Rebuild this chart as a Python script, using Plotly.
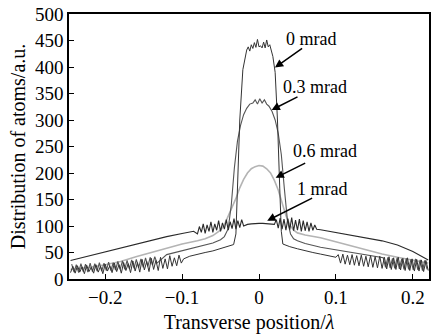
import plotly.graph_objects as go

# ---------------- data ----------------
# 0 mrad
x0_left = [-0.245,-0.242,-0.239,-0.236,-0.233,-0.230,-0.227,-0.224,-0.221,-0.218,
           -0.215,-0.212,-0.209,-0.206,-0.203,-0.200,-0.197,-0.194,-0.191,-0.188,
           -0.185,-0.182,-0.179,-0.176,-0.173,-0.170,-0.167,-0.164,-0.161,-0.158,
           -0.155,-0.152,-0.149,-0.146,-0.143,-0.140,-0.137,-0.134,-0.131,-0.128,
           -0.125,-0.122,-0.119,-0.116,-0.113,-0.110,-0.107,-0.104,-0.101]
y0_left = [12,24,11,25,13,23,10,26,14,22,11,27,13,24,10,28,15,25,12,30,
           14,27,11,31,16,29,12,34,15,31,13,37,17,33,14,39,18,35,16,41,
           20,38,19,44,24,40,25,45,30]
x0_mid = [-0.098,-0.090,-0.080,-0.070,-0.060,-0.050,-0.040,-0.033,-0.030,-0.028,-0.025,-0.021,-0.018,-0.016,
          -0.014,-0.012,-0.010,-0.008,-0.006,-0.004,-0.002,0.000,0.002,0.004,0.006,0.008,0.010,0.012,0.014,0.016,
          0.018,0.021,0.024,0.027,0.029,0.031,0.040,0.050,0.060,0.070,0.080,0.090,0.100]
y0_mid = [38,43,47,50,53,57,61,65,85,170,300,395,422,432,
          438,430,442,435,446,437,452,438,440,436,447,436,451,438,442,428,
          420,390,300,170,90,66,61,57,53,50,47,44,41]
x0_right = [0.103,0.106,0.109,0.112,0.115,0.118,0.121,0.124,0.127,0.130,
            0.133,0.136,0.139,0.142,0.145,0.148,0.151,0.154,0.157,0.160,
            0.163,0.166,0.169,0.172,0.175,0.178,0.181,0.184,0.187,0.190,
            0.193,0.196,0.199,0.202,0.205,0.208,0.211,0.214,0.217,0.220]
y0_right = [46,30,47,28,45,27,46,26,44,25,45,24,43,23,44,22,42,21,43,20,
            41,19,42,18,40,18,41,17,39,16,40,16,38,15,37,15,36,14,35,16]

# 0.3 mrad
x03_left = [-0.2435,-0.2405,-0.2375,-0.2345,-0.2315,-0.2285,-0.2255,-0.2225,-0.2195,-0.2165,
            -0.2135,-0.2105,-0.2075,-0.2045,-0.2015,-0.1985,-0.1955,-0.1925,-0.1895,-0.1865,
            -0.1835,-0.1805,-0.1775,-0.1745,-0.1715,-0.1685,-0.1655,-0.1625,-0.1595,-0.1565,
            -0.1535,-0.1505,-0.1475,-0.1445,-0.1415,-0.1385,-0.1355,-0.1325]
y03_left = [28,13,27,12,29,14,28,13,30,14,29,15,31,15,30,16,32,16,31,17,
            33,18,34,18,35,19,36,20,37,21,38,22,40,24,41,26,42,30]
x03_mid = [-0.12,-0.10,-0.08,-0.06,-0.05,-0.045,-0.040,-0.036,-0.032,
           -0.028,-0.024,-0.020,-0.016,-0.012,-0.008,-0.005,-0.002,0.001,0.004,0.007,0.010,0.013,0.017,
           0.021,0.025,0.029,0.033,0.037,0.041,0.045,0.05,0.06,0.08,0.10,0.12,0.14,0.155]
y03_mid = [46,53,60,68,74,80,95,140,210,
           260,290,310,322,330,332,338,330,340,332,338,330,326,316,
           300,275,235,170,110,85,76,72,67,60,55,50,45,41]
x03_right = [0.1615,0.1645,0.1675,0.1705,0.1735,0.1765,0.1795,0.1825,0.1855,0.1885,
             0.1915,0.1945,0.1975,0.2005,0.2035,0.2065,0.2095,0.2125,0.2155,0.2185]
y03_right = [40,22,41,21,39,20,40,19,38,18,39,18,37,17,38,17,36,16,35,18]

# 0.6 mrad
x06 = [-0.245,-0.22,-0.20,-0.18,-0.16,-0.14,-0.12,-0.10,-0.08,-0.07,-0.06,-0.05,-0.045,-0.040,-0.035,
       -0.030,-0.025,-0.020,-0.015,-0.010,-0.005,0.000,0.005,0.010,0.015,0.020,0.025,0.030,0.035,
       0.040,0.045,0.05,0.06,0.08,0.10,0.12,0.14,0.16,0.18,0.20,0.22]
y06 = [18,22,27,33,42,50,58,66,72,76,82,92,102,118,135,
       152,172,188,200,208,212,214,213,208,200,186,168,145,120,
       102,92,87,83,78,70,62,54,47,41,35,30]

# 1 mrad
x1 = [-0.245,-0.22,-0.20,-0.18,-0.16,-0.14,-0.12,-0.10,-0.085,
      -0.0800,-0.0775,-0.0750,-0.0725,-0.0700,-0.0675,-0.0650,-0.0625,-0.0600,-0.0575,
      -0.0550,-0.0525,-0.0500,-0.0475,-0.0450,-0.0425,-0.0400,-0.0375,-0.0350,-0.0325,
      -0.0300,-0.0275,-0.0250,-0.0225,-0.0200,
      -0.015,-0.010,-0.005,0.000,0.005,0.010,0.015,
      0.0200,0.0225,0.0250,0.0275,0.0300,0.0325,0.0350,0.0375,0.0400,0.0425,
      0.0450,0.0475,0.0500,0.0525,0.0550,0.0575,0.0600,0.0625,0.0650,0.0675,
      0.0700,0.0725,0.0750,
      0.08,0.10,0.12,0.14,0.16,0.18,0.20,0.22]
y1 = [35,44,51,58,66,73,80,86,90,
      85,99,88,104,86,102,90,108,88,104,
      92,110,90,106,94,112,92,108,95,114,
      94,110,97,112,100,
      103,104,105,105,105,104,103,
      103,112,96,115,94,113,92,114,93,116,
      91,111,92,113,90,110,91,108,90,106,
      92,102,94,
      93,88,83,78,72,64,52,36]

x_ticks = [-0.2, -0.1, 0, 0.1, 0.2]
y_ticks = [0, 50, 100, 150, 200, 250, 300, 350, 400, 450, 500]

labels = ["0 mrad", "0.3 mrad", "0.6 mrad", "1 mrad"]

# ---------------- figure ----------------
fig = go.Figure()
fig.add_trace(go.Scatter(x=x06, y=y06, mode="lines", line=dict(color="#b4b4b4", width=1.6), name=labels[2]))
fig.add_trace(go.Scatter(x=x03_left + x03_mid + x03_right, y=y03_left + y03_mid + y03_right, mode="lines",
                         line=dict(color="#555555", width=1.1), name=labels[1]))
fig.add_trace(go.Scatter(x=x1, y=y1, mode="lines", line=dict(color="#2a2a2a", width=1.1), name=labels[3]))
fig.add_trace(go.Scatter(x=x0_left + x0_mid + x0_right, y=y0_left + y0_mid + y0_right, mode="lines",
                         line=dict(color="#333333", width=1.0), name=labels[0]))

font_family = "Liberation Serif, Times New Roman, serif"

# annotations: (label, tip x, tip y, tail x, tail y, text x, text y)
ann = [
    (labels[0], 0.0207, 399, 0.058, 437, 0.033, 452),
    (labels[1], 0.0164, 319, 0.052, 345, 0.029, 362),
    (labels[2], 0.0216, 191, 0.062, 220, 0.042, 241),
    (labels[3], 0.0107, 110, 0.071, 154, 0.047, 170),
]
for lab, tx, ty, ax_, ay_, lx, ly in ann:
    fig.add_annotation(x=tx, y=ty, ax=ax_, ay=ay_, axref="x", ayref="y", xref="x", yref="y",
                       text="", showarrow=True, arrowhead=2, arrowsize=1.1, arrowwidth=1.5,
                       arrowcolor="black")
    fig.add_annotation(x=lx, y=ly, xref="x", yref="y", text=lab, showarrow=False,
                       xanchor="left", yanchor="middle",
                       font=dict(family=font_family, size=18, color="black"))

fig.update_layout(
    width=433, height=334,
    margin=dict(l=69, r=2, t=14, b=54),
    paper_bgcolor="white", plot_bgcolor="white",
    showlegend=False,
    font=dict(family=font_family, size=18, color="black"),
)
fig.update_xaxes(range=[-0.247, 0.221], tickvals=x_ticks, ticks="inside", ticklen=5, tickwidth=1.2,
                 tickcolor="black", showline=True, linecolor="black", linewidth=1.5, mirror=True,
                 showgrid=False, zeroline=False,
                 title=dict(text="Transverse position/<i>λ</i>", font=dict(size=20), standoff=10),
                 tickfont=dict(size=19))
fig.update_yaxes(range=[0, 500], tickvals=y_ticks, ticks="inside", ticklen=5, tickwidth=1.2,
                 tickcolor="black", showline=True, linecolor="black", linewidth=1.5, mirror=True,
                 showgrid=False, zeroline=False,
                 title=dict(text="Distribution of atoms/a.u.", font=dict(size=20), standoff=4),
                 tickfont=dict(size=19))

fig.write_html("out.html", config={"displayModeBar": False},
               post_script="document.body.style.margin='0px';document.body.style.overflow='hidden';")
